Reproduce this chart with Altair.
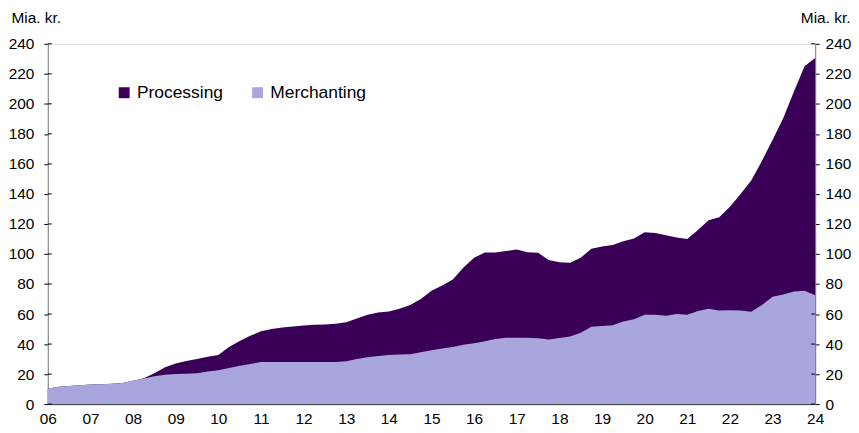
import altair as alt
import pandas as pd

# Quarterly observations, 2006 Q1 .. 2024 Q1 (billion DKK)
quarters = [2006 + i * 0.25 for i in range(73)]

merchanting = [
    10.2, 11.5, 12.0, 12.5, 13.0, 13.2, 13.5, 14.0,
    15.5, 17.0, 18.5, 19.5, 20.0, 20.3, 20.5, 21.7,
    22.5, 24.0, 25.5, 26.8, 28.0, 28.0, 28.0, 28.0,
    28.0, 28.0, 28.0, 28.0, 28.5, 30.0, 31.2, 32.0,
    32.7, 33.0, 33.2, 34.5, 35.8, 37.0, 38.0, 39.6,
    40.5, 41.8, 43.3, 44.2, 44.2, 44.2, 43.8, 43.0,
    44.0, 45.0, 47.5, 51.5, 52.0, 52.5, 55.0, 56.5,
    59.5, 59.5, 58.8, 60.0, 59.5, 62.0, 63.5, 62.3,
    62.5, 62.3, 61.5, 66.0, 71.6, 73.0, 75.0, 75.6,
    72.5,
]

# Top of the stack (merchanting + processing)
total = [
    10.2, 11.5, 12.0, 12.5, 13.0, 13.2, 13.5, 14.0,
    15.5, 17.2, 20.5, 24.5, 27.0, 28.8, 30.0, 31.5,
    32.8, 38.0, 42.0, 45.5, 48.5, 50.0, 51.0, 51.7,
    52.3, 52.8, 53.0, 53.5, 54.5, 57.0, 59.5, 61.0,
    61.7, 63.5, 66.0, 70.0, 75.5, 79.0, 83.0, 91.0,
    97.5, 101.0, 101.0, 102.0, 103.0, 101.2, 100.8, 96.0,
    94.5, 94.2, 97.5, 103.5, 105.0, 106.0, 108.5, 110.3,
    114.5, 114.0, 112.5, 111.0, 110.0, 116.0, 122.5, 124.5,
    131.5, 140.0, 149.0, 162.0, 176.0, 190.5, 208.0, 225.0,
    230.5,
]

series_names = ["Processing", "Merchanting"]
year_ticks = list(range(2006, 2025))
y_ticks = list(range(0, 241, 20))

DARK = "#3a0058"
LIGHT = "#a9a5dd"
FONT = "Liberation Sans"

rows = []
for q, t in zip(quarters, total):
    rows.append({"t": q, "series": "Processing", "v": t})
for q, m in zip(quarters, merchanting):
    rows.append({"t": q, "series": "Merchanting", "v": m})
df = pd.DataFrame(rows)
ticks_df = pd.DataFrame({"y": y_ticks})

W, H = 771, 362

x_enc = alt.X(
    "t:Q",
    scale=alt.Scale(domain=[2006, 2024], nice=False, zero=False),
    axis=alt.Axis(
        values=year_ticks,
        labelExpr="substring(toString(datum.value), 2, 4)",
        ticks=False,
        tickSize=0,
        grid=False,
        domainColor="#333333",
        labelFont=FONT,
        labelFontSize=15.5,
        labelColor="black",
        labelPadding=7,
        labelFlush=False,
        title=None,
    ),
)

yscale = alt.Scale(domain=[0, 240], nice=False)

color_enc = alt.Color(
    "series:N",
    scale=alt.Scale(domain=series_names, range=[DARK, LIGHT]),
    legend=alt.Legend(
        orient="none",
        legendX=68,
        legendY=40,
        direction="horizontal",
        title=None,
        symbolType="square",
        symbolSize=121,
        symbolStrokeWidth=0,
        symbolOpacity=1,
        labelFont=FONT,
        labelFontSize=17.5,
        labelColor="black",
        labelOffset=4,
        columnPadding=25,
        padding=0,
    ),
)


def make_axis(orient, title_x, title_align, pad):
    return alt.Axis(
        orient=orient,
        values=y_ticks,
        grid=False,
        domainColor="#808080",
        tickColor="black",
        tickSize=4,
        labelFont=FONT,
        labelFontSize=15.5,
        labelColor="black",
        labelPadding=pad,
        title="Mia. kr.",
        titleAngle=0,
        titleX=title_x,
        titleY=-26,
        titleAlign=title_align,
        titleBaseline="middle",
        titleFont=FONT,
        titleFontSize=15.5,
        titleFontWeight="normal",
        titleColor="black",
    )


left_axis = make_axis("left", -37, "left", 10)
right_axis = make_axis("right", 35, "right", 6)

base = alt.Chart(df)

proc_area = base.transform_filter(alt.datum.series == "Processing").mark_area(
    opacity=1, interpolate="linear"
).encode(
    x=x_enc,
    y=alt.Y("v:Q", scale=yscale, axis=left_axis, stack=None),
    color=color_enc,
)

merch_area = base.transform_filter(alt.datum.series == "Merchanting").mark_area(
    opacity=1, interpolate="linear"
).encode(
    x=x_enc,
    y=alt.Y("v:Q", scale=yscale, axis=left_axis, stack=None),
    color=color_enc,
)

left_inner_ticks = alt.Chart(ticks_df).mark_rule(color="black", strokeWidth=1).encode(
    y=alt.Y("y:Q", scale=yscale, axis=left_axis),
    x=alt.value(0),
    x2=alt.value(4),
)

left_layer = alt.layer(proc_area, merch_area, left_inner_ticks)

right_layer = alt.Chart(ticks_df).mark_rule(color="black", strokeWidth=1).encode(
    y=alt.Y("y:Q", scale=yscale, axis=right_axis),
    x=alt.value(W - 4),
    x2=alt.value(W),
)

chart = (
    alt.layer(left_layer, right_layer)
    .resolve_scale(y="independent")
    .properties(width=W, height=H, padding={"top": 2, "left": 0, "right": 0, "bottom": 0})
    .configure_view(stroke=None)
    .configure(background="white")
)

chart.save("out.html", embed_options={"renderer": "svg", "actions": False})
